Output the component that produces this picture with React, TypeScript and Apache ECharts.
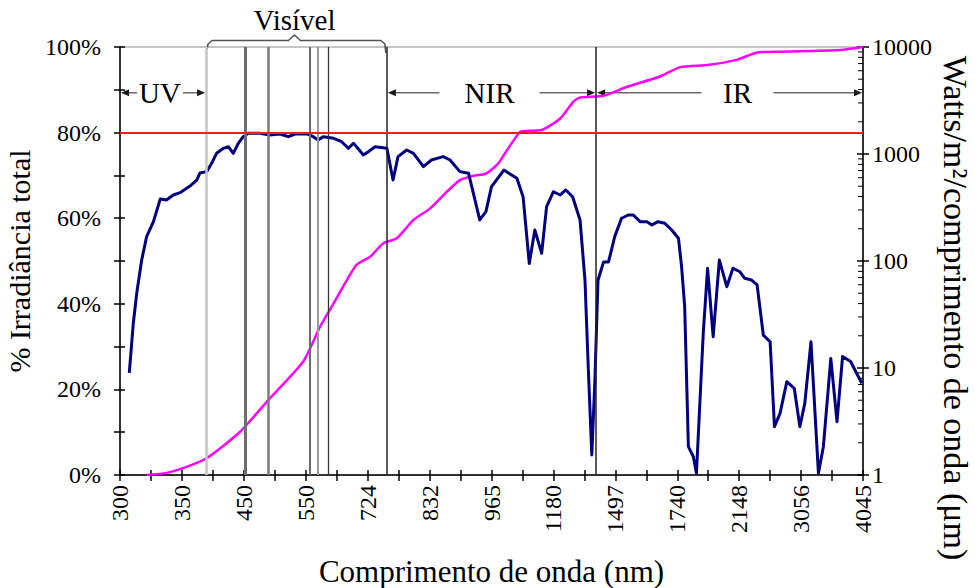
import { useEffect, useRef } from 'react';
import * as echarts from 'echarts';

// Wavelength tick labels (nm); the scale is banded, one unit per labelled tick.
const waveLabels = ['300', '350', '450', '550', '724', '832', '965', '1180', '1497', '1740', '2148', '3056', '4045'];

// Solar spectral irradiance (W/m²/μm) against position on the banded scale.
const spectralPos = [
  0.15, 0.215, 0.27, 0.35, 0.43, 0.54, 0.65, 0.75, 0.86, 0.97,
  1.13, 1.24, 1.29, 1.40, 1.48, 1.56, 1.67, 1.75, 1.83, 1.91,
  1.99, 2.07, 2.26, 2.42, 2.58, 2.72, 2.83, 3.02, 3.12, 3.20,
  3.28, 3.45, 3.58, 3.69, 3.77, 3.82, 3.93, 4.01, 4.12, 4.31,
  4.41, 4.49, 4.63, 4.74, 4.90, 5.03, 5.22, 5.33, 5.49, 5.63,
  5.81, 5.91, 6.00, 6.20, 6.41, 6.51, 6.61, 6.70, 6.81, 6.89,
  7.00, 7.11, 7.20, 7.31, 7.43, 7.51, 7.56, 7.62, 7.67, 7.72,
  7.81, 7.89, 7.99, 8.10, 8.21, 8.29, 8.40, 8.51, 8.59, 8.69,
  8.80, 8.91, 9.02, 9.07, 9.12, 9.18, 9.26, 9.31, 9.42, 9.49,
  9.58, 9.68, 9.80, 9.90, 10.01, 10.09, 10.20, 10.29, 10.39, 10.50,
  10.57, 10.66, 10.77, 10.89, 10.98, 11.06, 11.16, 11.28, 11.36, 11.48,
  11.58, 11.67, 11.80, 11.98,
];
const spectralValue = [
  9.0, 26.2, 49.9, 102, 169, 233, 380, 372, 414, 435,
  502, 571, 664, 684, 819, 1015, 1130, 1170, 1015, 1259,
  1452, 1561, 1561, 1506, 1538, 1452, 1538, 1538, 1452, 1352,
  1452, 1402, 1303, 1130, 1259, 1170, 979, 1050, 1170, 1130,
  571, 944, 1090, 1015, 761, 879, 944, 879, 684, 660,
  242, 289, 495, 708, 593, 399, 95, 195, 118, 322,
  444, 414, 461, 399, 242, 66, 11.1, 1.54, 7.7, 66,
  98, 98, 169, 251, 269, 269, 233, 233, 217, 233,
  225, 195, 163, 88.5, 37.4, 1.84, 1.48, 1.04, 21.1, 85.5,
  19.6, 102, 57.5, 85.5, 79.4, 68.9, 66.4, 59.7, 20.3, 17.6,
  2.83, 3.77, 7.45, 6.46, 2.83, 4.68, 17.6, 1.04, 1.84, 12.3,
  3.15, 12.8, 11.5, 7.2,
];

// Cumulative share of total irradiance (%).
const cumulativePos = [
  0.43, 0.75, 1.02, 1.40, 1.94, 2.37, 2.96, 3.23, 3.45, 3.82,
  4.04, 4.25, 4.47, 4.74, 5.01, 5.28, 5.49, 5.71, 5.92, 6.11,
  6.25, 6.46, 6.54, 6.81, 7.11, 7.32, 7.43, 7.81, 8.19, 8.72,
  9.05, 9.48, 9.96, 10.29, 10.66, 11.63, 12.0,
];
const cumulativePct = [
  0, 0.5, 1.6, 3.9, 10.1, 17.1, 26.5, 34.6, 40.1, 49.1,
  51.0, 54.1, 55.3, 59.6, 62.3, 66.2, 68.9, 69.9, 70.5, 72.8,
  75.9, 80.2, 80.4, 80.6, 83.3, 87.2, 88.2, 88.6, 90.7, 93.1,
  95.3, 95.8, 97.0, 98.7, 98.9, 99.3, 100,
];

// Reference wavelengths drawn as vertical markers.
const markerPos = [1.39, 2.03, 2.40, 3.06, 3.19, 3.37, 4.31, 7.69];
const thresholdPct = 80;

// Spectral bands (positions on the banded scale).
const bandNames = ['UV', 'Visível', 'NIR', 'IR'];
const bandFrom = [0, 1.39, 4.31, 7.69];
const bandTo = [1.39, 4.31, 7.69, 12];

const FONT = "'Liberation Serif', serif";

export default function App() {
  const ref = useRef<HTMLDivElement>(null);

  useEffect(() => {
    const chart = echarts.init(ref.current!, null, { renderer: 'svg' });
    const maxPos = waveLabels.length - 1;

    const spectral = spectralPos.map((p, i) => [p, spectralValue[i]]);
    const cumulative = cumulativePos.map((p, i) => [p, cumulativePct[i]]);

    const minorTicks: number[][] = [];
    for (let d = 1; d < 10000; d *= 10) {
      for (let k = 2; k <= 9; k++) minorTicks.push([maxPos, k * d]);
    }

    const markerStyle = [
      { color: '#c4c4c4', width: 2.5 },
      { color: '#6e6e6e', width: 3 },
      { color: '#7a7a7a', width: 2.5 },
      { color: '#6a6a6a', width: 2 },
      { color: '#9a9a9a', width: 2 },
      { color: '#333333', width: 1.3 },
      { color: '#222222', width: 1.5 },
      { color: '#222222', width: 1.5 },
    ];

    const grid = {
      left: 120, right: 112, top: 47, bottom: 113,
      containLabel: false, outerBoundsMode: 'none',
    };
    const tickLabel = { color: '#000', fontFamily: FONT, fontSize: 24 };
    const titleStyle = { color: '#000', fontFamily: FONT, fontSize: 31 };

    chart.setOption({
      animation: false,
      textStyle: { fontFamily: FONT },
      grid: [
        { ...grid, show: true, borderColor: '#8c8c8c', borderWidth: 1 },
        { ...grid, show: false },
      ],
      xAxis: [
        {
          type: 'value', gridIndex: 0, min: 0, max: maxPos, interval: 0.5, position: 'bottom',
          axisLine: { lineStyle: { color: '#000', width: 1.5 } },
          axisTick: { length: 6, lineStyle: { color: '#000', width: 1.5 } },
          splitLine: { show: false },
          axisLabel: {
            ...tickLabel, rotate: 90, margin: 10,
            formatter: (v: number) => (Number.isInteger(v) ? waveLabels[v] : ''),
          },
          name: 'Comprimento de onda (nm)', nameLocation: 'middle', nameGap: 81,
          nameTextStyle: titleStyle,
        },
        {
          type: 'value', gridIndex: 1, min: 0, max: maxPos, interval: 0.5, position: 'bottom',
          axisLine: { show: false }, axisLabel: { show: false }, splitLine: { show: false },
          axisTick: { inside: true, length: 5, lineStyle: { color: '#000', width: 1.5 } },
        },
      ],
      yAxis: [
        {
          type: 'value', gridIndex: 0, min: 0, max: 100, interval: 10, position: 'left',
          axisLine: { show: true, lineStyle: { color: '#000', width: 1.5 } },
          axisTick: { show: true, length: 6, lineStyle: { color: '#000', width: 1.5 } },
          splitLine: { show: false },
          axisLabel: { ...tickLabel, margin: 19, formatter: (v: number) => (v % 20 === 0 ? v + '%' : '') },
          name: '% Irradiância total', nameLocation: 'middle', nameGap: 85, nameRotate: 90,
          nameTextStyle: { ...titleStyle, fontSize: 30 },
        },
        {
          type: 'log', logBase: 10, gridIndex: 0, min: 1, max: 10000, position: 'right',
          axisLine: { show: true, lineStyle: { color: '#000', width: 1.5 } },
          axisTick: { show: true, length: 6, lineStyle: { color: '#000', width: 1.5 } },
          splitLine: { show: false },
          axisLabel: { ...tickLabel, margin: 9, formatter: (v: number) => String(Math.round(v)) },
        },
        {
          type: 'value', gridIndex: 1, min: 0, max: 100, interval: 10, position: 'left',
          axisLine: { show: false }, axisLabel: { show: false }, splitLine: { show: false },
          axisTick: { show: true, inside: true, length: 5, lineStyle: { color: '#000', width: 1.5 } },
        },
        {
          type: 'log', logBase: 10, gridIndex: 1, min: 1, max: 10000, position: 'right',
          axisLine: { show: false }, axisLabel: { show: false }, splitLine: { show: false },
          axisTick: { show: true, inside: true, length: 6, lineStyle: { color: '#000', width: 1.5 } },
        },
      ],
      series: [
        {
          name: 'marcadores', type: 'line', xAxisIndex: 0, yAxisIndex: 0, data: [], z: 1,
          markLine: {
            silent: true, symbol: ['none', 'none'], label: { show: false },
            data: markerPos.map((x, i) => ({
              xAxis: x,
              lineStyle: { type: 'solid', color: markerStyle[i].color, width: markerStyle[i].width },
            })),
          },
        },
        {
          name: 'Irradiância acumulada', type: 'line', xAxisIndex: 0, yAxisIndex: 0,
          data: cumulative, showSymbol: false, symbol: 'none', smooth: 0.2, z: 3,
          lineStyle: { color: '#ff00ff', width: 2.5 },
          markLine: {
            silent: true, symbol: ['none', 'none'], label: { show: false },
            data: [{ yAxis: thresholdPct, lineStyle: { type: 'solid', color: '#ff1a1a', width: 1.8 } }],
          },
        },
        {
          name: 'Irradiância espectral', type: 'line', xAxisIndex: 0, yAxisIndex: 1,
          data: spectral, showSymbol: false, symbol: 'none', z: 4,
          lineStyle: { color: '#000080', width: 3, join: 'round' },
        },
        {
          name: 'subdivisões', type: 'custom', xAxisIndex: 0, yAxisIndex: 1, data: minorTicks,
          silent: true, clip: false, z: 5,
          renderItem: (_p: any, api: any) => {
            const pt = api.coord([api.value(0), api.value(1)]);
            return {
              type: 'line',
              shape: { x1: pt[0] - 5, y1: pt[1], x2: pt[0], y2: pt[1] },
              style: { stroke: '#000', lineWidth: 1 },
            };
          },
        },
      ],
    });

    // Band annotations: arrows, bracket and labels, placed through the axes.
    const px = (x: number, y: number) =>
      chart.convertToPixel({ xAxisIndex: 0, yAxisIndex: 0 }, [x, y]) as number[];
    const arrowY = px(0, 89.3)[1];
    const topY = px(0, 100)[1];
    const arrowColor = '#6a6a6a';
    const headColor = '#1a1a1a';
    const gapHalf: Record<string, number> = { UV: 23, NIR: 50, IR: 36 };
    const textShift: Record<string, number> = { UV: -3, NIR: -2, IR: 8 };
    const labelFont = `29px ${FONT}`;
    const elements: any[] = [];

    const head = (tip: number, dir: number) => ({
      type: 'polygon',
      shape: { points: [[tip, arrowY], [tip - dir * 8, arrowY - 3.5], [tip - dir * 8, arrowY + 3.5]] },
      style: { fill: headColor },
    });

    bandNames.forEach((name, i) => {
      const x1 = px(bandFrom[i], 0)[0] + 1;
      const x2 = px(bandTo[i], 0)[0] - 1;
      if (name === 'Visível') {
        const mx = (x1 + x2) / 2 - 2;
        elements.push({
          type: 'polyline',
          shape: {
            points: [
              [x1, topY + 2], [x1 + 1, topY - 3], [x1 + 5, topY - 6.5], [mx - 6, topY - 6.5],
              [mx, topY - 12], [mx + 6, topY - 6.5], [x2 - 5, topY - 6.5], [x2 - 1, topY - 3], [x2, topY + 6],
            ],
          },
          style: { stroke: '#555', lineWidth: 1.6, fill: null, lineJoin: 'round' },
        });
        elements.push({
          type: 'text', x: mx, y: topY - 27,
          style: { text: name, fill: '#000', font: labelFont, align: 'center', verticalAlign: 'middle' },
        });
        return;
      }
      const cx = (x1 + x2) / 2 + textShift[name];
      const g = gapHalf[name];
      elements.push(
        { type: 'line', shape: { x1: x1 + 7, y1: arrowY, x2: cx - g, y2: arrowY }, style: { stroke: arrowColor, lineWidth: 1.5 } },
        { type: 'line', shape: { x1: cx + g, y1: arrowY, x2: x2 - 7, y2: arrowY }, style: { stroke: arrowColor, lineWidth: 1.5 } },
        head(x1, -1),
        head(x2, 1),
        {
          type: 'text', x: cx, y: arrowY,
          style: { text: name, fill: '#000', font: labelFont, align: 'center', verticalAlign: 'middle' },
        },
      );
    });

    elements.push({
      type: 'text', x: 955, y: 308, rotation: -Math.PI / 2,
      style: {
        text: 'Watts/m²/comprimento de onda (μm)', fill: '#000', font: `34px ${FONT}`,
        align: 'center', verticalAlign: 'middle',
      },
    });

    chart.setOption({ graphic: { elements } });

    return () => chart.dispose();
  }, []);

  return <div ref={ref} style={{ position: 'absolute', left: 0, top: 0, width: 975, height: 588 }} />;
}
